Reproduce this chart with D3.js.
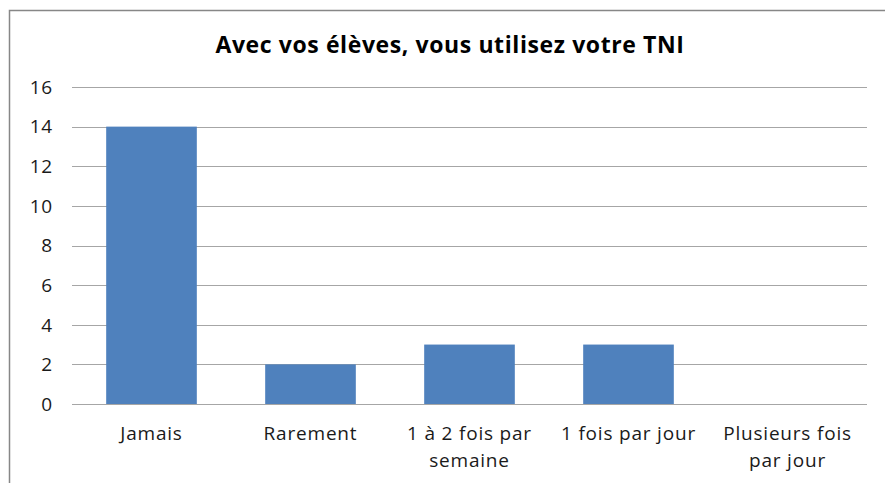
<!DOCTYPE html>
<html>
<head>
<meta charset="utf-8">
<script src="https://cdn.jsdelivr.net/npm/d3@7"></script>
<style>
    body { margin: 0; background: #fff; }
    text { font-family: "Open Sans", sans-serif; fill: #000; }
    .tick-label, .cat-label { font-size: 19px; letter-spacing: 0.8px; fill: #1a1a1a; }
    .title { font-size: 23px; font-weight: bold; letter-spacing: 0.6px; }
</style>
</head>
<body>
<script>
var title = 'Avec vos élèves, vous utilisez votre TNI';
var categories = ['Jamais', 'Rarement', '1 à 2 fois par semaine', '1 fois par jour', 'Plusieurs fois par jour'];
var counts = [14, 2, 3, 3, 0];
var yTicks = [0, 2, 4, 6, 8, 10, 12, 14, 16];

var width = 885,
    height = 483,
    plot = { left: 72, right: 867, top: 87, bottom: 404 };

var svg = d3.select('body').append('svg')
    .attr('width', width)
    .attr('height', height);

// chart frame (only left and top edges show in the picture)
svg.append('rect')
    .attr('x', 9.5)
    .attr('y', 10.5)
    .attr('width', 900)
    .attr('height', 500)
    .attr('fill', 'none')
    .attr('stroke', '#878787')
    .attr('stroke-width', 1.5);

svg.append('text')
    .attr('class', 'title')
    .attr('x', 450)
    .attr('y', 53)
    .attr('text-anchor', 'middle')
    .text(title);

var x = d3.scaleBand()
    .domain(categories)
    .range([plot.left, plot.right])
    .paddingInner(0.43)
    .paddingOuter(0.215);

var y = d3.scaleLinear()
    .domain([0, 16])
    .range([plot.bottom, plot.top]);

// gridlines
svg.append('g')
    .selectAll('line')
    .data(yTicks)
    .enter().append('line')
    .attr('x1', plot.left)
    .attr('x2', plot.right)
    .attr('y1', d => Math.round(y(d)) + 0.5)
    .attr('y2', d => Math.round(y(d)) + 0.5)
    .attr('stroke', '#a6a6a6')
    .attr('stroke-width', 1);

svg.append('g')
    .selectAll('text')
    .data(yTicks)
    .enter().append('text')
    .attr('class', 'tick-label')
    .attr('x', 53)
    .attr('y', d => y(d))
    .attr('dy', '0.36em')
    .attr('text-anchor', 'end')
    .text(d => d);

svg.append('g')
    .selectAll('rect')
    .data(categories)
    .enter().append('rect')
    .attr('x', d => x(d))
    .attr('width', x.bandwidth())
    .attr('y', (d, i) => y(counts[i]))
    .attr('height', (d, i) => y(0) - y(counts[i]))
    .attr('fill', '#4f81bd');

// category labels, wrapped like the spreadsheet does
var maxLabelWidth = 155;
var labels = svg.append('g')
    .selectAll('text')
    .data(categories)
    .enter().append('text')
    .attr('class', 'cat-label')
    .attr('text-anchor', 'middle')
    .attr('y', 440);

labels.each(function (d) {
    var text = d3.select(this),
        cx = x(d) + x.bandwidth() / 2,
        words = d.split(' '),
        line = [],
        tspan = text.append('tspan').attr('x', cx).attr('y', 440),
        lineNo = 0;
    words.forEach(function (w) {
        line.push(w);
        tspan.text(line.join(' '));
        if (tspan.node().getComputedTextLength() > maxLabelWidth && line.length > 1) {
            line.pop();
            tspan.text(line.join(' '));
            line = [w];
            lineNo++;
            tspan = text.append('tspan').attr('x', cx).attr('y', 440 + lineNo * 27).text(w);
        }
    });
});
</script>
</body>
</html>
